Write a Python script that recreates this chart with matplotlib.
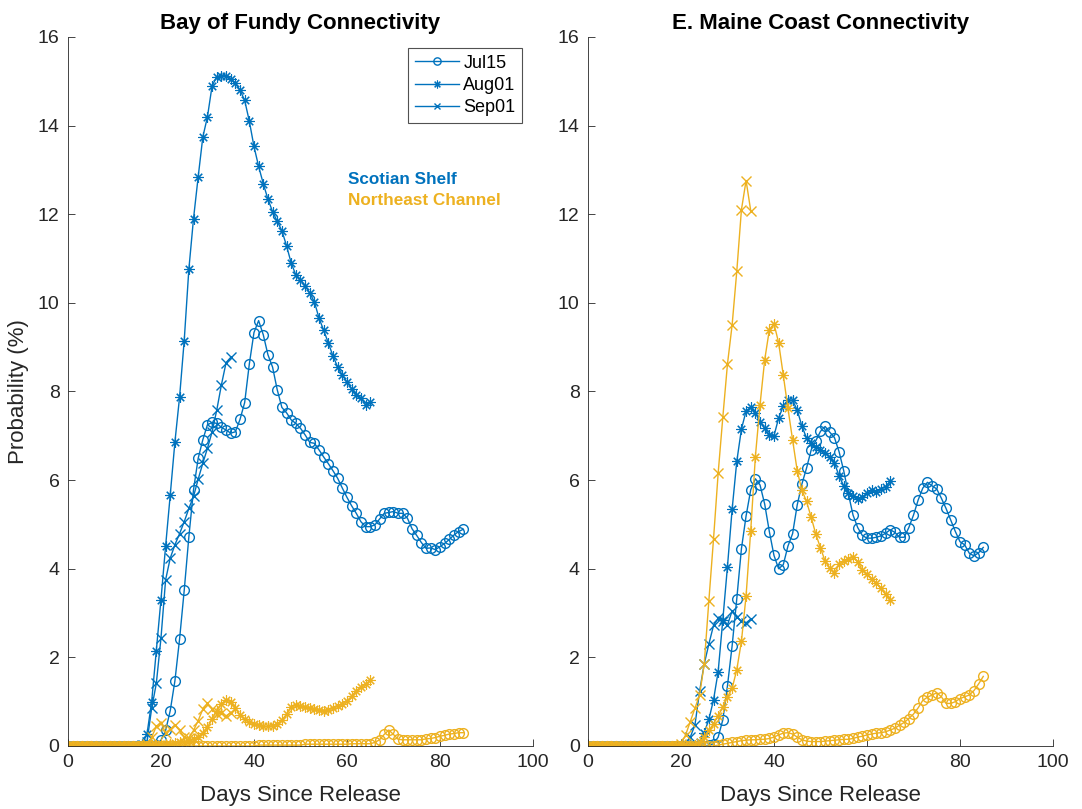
import numpy as np
import matplotlib
matplotlib.use("Agg")
import matplotlib.pyplot as plt

plt.rcParams['font.family'] = ['Liberation Sans', 'DejaVu Sans']

BLUE = "#0072BD"
GOLD = "#EDB120"

release_labels = ["Jul15", "Aug01", "Sep01"]

# --- Bay of Fundy, Scotian Shelf (blue) ---
fundy_ss_jul15 = [0, 0, 0, 0, 0, 0, 0, 0, 0, 0, 0, 0, 0, 0, 0, 0, 0, 0, 0, 0.03,
                  0.13, 0.35, 0.8, 1.47, 2.41, 3.51, 4.72, 5.78, 6.49, 6.91,
                  7.25, 7.3, 7.28, 7.19, 7.13, 7.06, 7.09, 7.37, 7.75, 8.62,
                  9.33, 9.6, 9.28, 8.83, 8.55, 8.04, 7.64, 7.52, 7.36, 7.28,
                  7.17, 7.02, 6.85, 6.83, 6.68, 6.52, 6.37, 6.21, 6.04, 5.82,
                  5.61, 5.42, 5.25, 5.06, 4.95, 4.95, 4.99, 5.12, 5.25, 5.27,
                  5.29, 5.25, 5.25, 5.14, 4.9, 4.75, 4.59, 4.46, 4.47, 4.43,
                  4.5, 4.57, 4.66, 4.76, 4.84, 4.89]
fundy_ss_aug01 = [0, 0, 0, 0, 0, 0, 0, 0, 0, 0, 0, 0, 0, 0, 0, 0, 0.05, 0.27, 1.0, 2.15,
                  3.3, 4.51, 5.67, 6.86, 7.87, 9.15, 10.76, 11.9, 12.84, 13.74,
                  14.2, 14.9, 15.1, 15.12, 15.13, 15.05, 14.95, 14.8, 14.57, 14.1,
                  13.53, 13.08, 12.69, 12.34, 12.06, 11.84, 11.63, 11.29, 10.9, 10.63,
                  10.52, 10.38, 10.22, 10.02, 9.65, 9.38, 9.09, 8.8, 8.55, 8.37,
                  8.21, 8.06, 7.92, 7.85, 7.7, 7.77]
fundy_ss_sep01 = [0, 0, 0, 0, 0, 0, 0, 0, 0, 0, 0, 0, 0, 0, 0, 0, 0.02, 0.1, 0.85, 1.41,
                  2.43, 3.75, 4.24, 4.54, 4.79, 5.06, 5.36, 5.63, 6.02, 6.38,
                  6.72, 7.09, 7.58, 8.15, 8.65, 8.77]

# --- Bay of Fundy, Northeast Channel (gold) ---
fundy_nec_jul15 = [0, 0, 0, 0, 0, 0, 0, 0, 0, 0, 0, 0, 0, 0, 0, 0, 0, 0, 0, 0,
                   0, 0, 0, 0, 0, 0, 0, 0, 0, 0, 0, 0, 0, 0, 0, 0, 0, 0, 0, 0,
                   0, 0.02, 0.02, 0.02, 0.02, 0.02, 0.02, 0.02, 0.02, 0.02,
                   0.02, 0.04, 0.04, 0.04, 0.04, 0.04, 0.04, 0.04, 0.04, 0.04,
                   0.04, 0.05, 0.05, 0.05, 0.05, 0.05, 0.08, 0.14, 0.26, 0.36,
                   0.26, 0.15, 0.14, 0.14, 0.14, 0.14, 0.14, 0.16, 0.17, 0.19,
                   0.22, 0.24, 0.27, 0.28, 0.3, 0.3]
fundy_nec_aug01 = [0, 0, 0, 0, 0, 0, 0, 0, 0, 0, 0, 0, 0, 0, 0, 0, 0, 0.01, 0.02, 0.03,
                   0.04, 0.05, 0.05, 0.06, 0.08, 0.1, 0.12, 0.15, 0.2, 0.3,
                   0.42, 0.62, 0.8, 0.95, 1.04, 1.0, 0.85, 0.7, 0.6, 0.54,
                   0.5, 0.47, 0.44, 0.44, 0.46, 0.5, 0.58, 0.72, 0.88, 0.92,
                   0.9, 0.88, 0.86, 0.84, 0.82, 0.8, 0.82, 0.85, 0.9, 0.95,
                   1.02, 1.12, 1.25, 1.33, 1.4, 1.48]
fundy_nec_sep01 = [0, 0, 0, 0, 0, 0, 0, 0, 0, 0, 0, 0, 0, 0, 0, 0, 0, 0.05, 0.2, 0.44,
                   0.52, 0.3, 0.38, 0.47, 0.35, 0.2, 0.18, 0.35, 0.57, 0.83,
                   0.96, 0.83, 0.72, 0.74, 0.68, 0.75]

# --- E. Maine Coast, Scotian Shelf (blue) ---
maine_ss_jul15 = [0, 0, 0, 0, 0, 0, 0, 0, 0, 0, 0, 0, 0, 0, 0, 0, 0, 0, 0, 0,
                  0, 0, 0, 0, 0, 0, 0.02, 0.05, 0.2, 0.59,
                  1.36, 2.26, 3.32, 4.45, 5.19, 5.78, 6.03, 5.89, 5.46, 4.84,
                  4.3, 4.0, 4.09, 4.51, 4.79, 5.44, 5.91, 6.27, 6.68, 6.89,
                  7.1, 7.21, 7.08, 6.96, 6.64, 6.21, 5.69, 5.21, 4.93, 4.75,
                  4.69, 4.69, 4.71, 4.74, 4.8, 4.88, 4.82, 4.71, 4.71, 4.93,
                  5.21, 5.55, 5.82, 5.95, 5.87, 5.8, 5.59, 5.36, 5.1, 4.84,
                  4.61, 4.54, 4.35, 4.29, 4.36, 4.48]
maine_ss_aug01 = [0, 0, 0, 0, 0, 0, 0, 0, 0, 0, 0, 0, 0, 0, 0, 0, 0, 0, 0, 0,
                  0, 0, 0, 0.03, 0.1, 0.3, 0.6, 1.04, 1.68, 2.85,
                  4.05, 5.34, 6.42, 7.15, 7.56, 7.64, 7.51, 7.32, 7.17, 7.02,
                  7.0, 7.4, 7.67, 7.81, 7.8, 7.58, 7.22, 6.95, 6.83, 6.75,
                  6.69, 6.62, 6.52, 6.39, 6.09, 5.87, 5.7, 5.63, 5.58, 5.62,
                  5.7, 5.78, 5.74, 5.8, 5.85, 5.97]
maine_ss_sep01 = [0, 0, 0, 0, 0, 0, 0, 0, 0, 0, 0, 0, 0, 0, 0, 0, 0, 0, 0, 0,
                  0, 0.05, 0.2, 0.47, 1.23, 1.85, 2.3, 2.72, 2.88, 2.81,
                  2.73, 3.05, 2.92, 2.81, 2.78, 2.86]

# --- E. Maine Coast, Northeast Channel (gold) ---
maine_nec_jul15 = [0, 0, 0, 0, 0, 0, 0, 0, 0, 0, 0, 0, 0, 0, 0, 0, 0, 0, 0, 0,
                   0, 0, 0, 0, 0, 0, 0, 0, 0.02, 0.04,
                   0.06, 0.08, 0.1, 0.12, 0.13, 0.14, 0.14, 0.15, 0.15, 0.17,
                   0.2, 0.25, 0.29, 0.3, 0.27, 0.2, 0.14, 0.11, 0.1, 0.1,
                   0.1, 0.11, 0.12, 0.13, 0.14, 0.15, 0.15, 0.17, 0.2, 0.22,
                   0.25, 0.27, 0.29, 0.3, 0.32, 0.36, 0.4, 0.47, 0.53, 0.62,
                   0.72, 0.86, 1.03, 1.1, 1.15, 1.2, 1.11, 0.96, 0.96, 1.0,
                   1.07, 1.11, 1.15, 1.25, 1.4, 1.57]
maine_nec_aug01 = [0, 0, 0, 0, 0, 0, 0, 0, 0, 0, 0, 0, 0, 0, 0, 0, 0, 0, 0, 0,
                   0, 0, 0, 0.03, 0.08, 0.2, 0.35, 0.5, 0.68, 0.88,
                   1.1, 1.3, 1.72, 2.36, 3.39, 4.86, 6.53, 7.7, 8.71, 9.39,
                   9.53, 9.1, 8.37, 7.62, 6.91, 6.21, 5.77, 5.52, 5.16, 4.78,
                   4.47, 4.17, 4.01, 3.9, 4.1, 4.18, 4.22, 4.27, 4.16, 3.97,
                   3.87, 3.76, 3.67, 3.56, 3.42, 3.3]
maine_nec_sep01 = [0, 0, 0, 0, 0, 0, 0, 0, 0, 0, 0, 0, 0, 0, 0, 0, 0, 0, 0, 0,
                   0.05, 0.25, 0.55, 0.85, 1.15, 1.85, 3.28, 4.67, 6.16, 7.42,
                   8.62, 9.5, 10.71, 12.1, 12.76, 12.08]

ASTERISK = (8, 2, 0)
markers = ['o', ASTERISK, 'x']
msizes = [7, 7.5, 6.5]
mews = [1.0, 0.8, 1.0]

fig = plt.figure(figsize=(10.82, 8.09), dpi=100)
ax1 = fig.add_axes([0.0628, 0.0779, 0.4298, 0.8764])
ax2 = fig.add_axes([0.5434, 0.0779, 0.4298, 0.8764])


def draw(ax, blue_series, gold_series, title):
    for vals, mk, ms, mw, lab in zip(blue_series, markers, msizes, mews, release_labels):
        ax.plot(np.arange(len(vals)), vals, color=BLUE, marker=mk, ms=ms,
                mfc='none', mew=mw, lw=1.0, label=lab)
    for vals, mk, ms, mw in zip(gold_series, markers, msizes, mews):
        ax.plot(np.arange(len(vals)), vals, color=GOLD, marker=mk, ms=ms,
                mfc='none', mew=mw, lw=1.0)
    ax.set_xlim(0, 100)
    ax.set_ylim(0, 16)
    ax.set_xticks(np.arange(0, 101, 20))
    ax.set_yticks(np.arange(0, 17, 2))
    ax.tick_params(direction='in', length=5, width=0.6, colors='#262626',
                   labelsize=14, pad=6)
    for side in ['top', 'right']:
        ax.spines[side].set_visible(False)
    for side in ['left', 'bottom']:
        ax.spines[side].set_color('#262626')
        ax.spines[side].set_linewidth(0.6)
    ax.set_title(title, fontsize=16, fontweight='bold', pad=6)
    ax.set_xlabel("Days Since Release", fontsize=16, color='#262626', labelpad=10)


draw(ax1, [fundy_ss_jul15, fundy_ss_aug01, fundy_ss_sep01],
     [fundy_nec_jul15, fundy_nec_aug01, fundy_nec_sep01],
     "Bay of Fundy Connectivity")
draw(ax2, [maine_ss_jul15, maine_ss_aug01, maine_ss_sep01],
     [maine_nec_jul15, maine_nec_aug01, maine_nec_sep01],
     "E. Maine Coast Connectivity")

ax1.set_ylabel("Probability (%)", fontsize=16, color='#262626', labelpad=6)

leg = ax1.legend(loc='upper right', bbox_to_anchor=(0.976, 0.984), fontsize=13,
                 frameon=True, fancybox=False, edgecolor='#262626',
                 handlelength=2.45, borderpad=0.35, labelspacing=0.3,
                 handletextpad=0.25, borderaxespad=0, markerscale=0.75)
leg.get_frame().set_linewidth(0.8)

ax1.text(60.2, 12.78, "Scotian Shelf", color=BLUE, fontsize=12.3,
         fontweight='bold', va='center', ha='left')
ax1.text(60.2, 12.32, "Northeast Channel", color=GOLD, fontsize=12.3,
         fontweight='bold', va='center', ha='left')

fig.savefig("out.png", dpi=100)
